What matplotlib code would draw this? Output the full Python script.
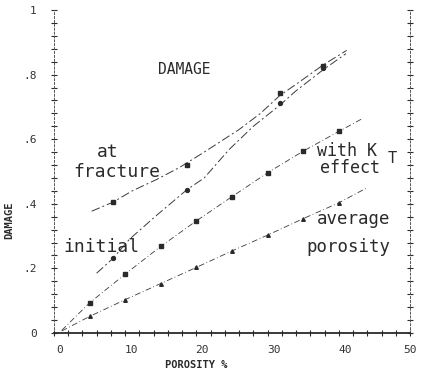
import numpy as np
import matplotlib
matplotlib.use('Agg')
import matplotlib.pyplot as plt
from matplotlib.ticker import MultipleLocator, FixedLocator, FixedFormatter
from matplotlib.transforms import ScaledTranslation

# measured points (porosity %, damage)
frac_x = [8.3, 18.7, 31.7, 37.8]
frac_y = [0.405, 0.52, 0.743, 0.827]
init_x = [8.3, 18.7, 31.7, 37.8]
init_y = [0.231, 0.444, 0.712, 0.82]
kt_x = [5, 10, 15, 20, 25, 30, 35, 40]
kt_y = [0.093, 0.182, 0.268, 0.347, 0.422, 0.496, 0.563, 0.624]
avg_x = [5, 10, 15, 20, 25, 30, 35, 40]
avg_y = [0.051, 0.103, 0.153, 0.203, 0.254, 0.303, 0.354, 0.403]

# hand drawn curves
frac_line_x = [5.3, 8.3, 11, 14.4, 17.6, 21.1, 26, 29, 31.7, 34, 37.8, 41.1]
frac_line_y = [0.377, 0.405, 0.44, 0.475, 0.512, 0.56, 0.63, 0.68, 0.735, 0.77, 0.83, 0.875]
init_line_x = [6, 8.3, 10.6, 14.3, 18.7, 21.1, 24.6, 28, 31.7, 34, 37.8, 41]
init_line_y = [0.185, 0.231, 0.29, 0.362, 0.444, 0.48, 0.568, 0.64, 0.705, 0.75, 0.815, 0.865]
kt_line_x = [1.1, 5, 10, 15, 20, 25, 30, 35, 40, 43.4]
kt_line_y = [0.008, 0.093, 0.182, 0.268, 0.347, 0.422, 0.496, 0.563, 0.624, 0.665]
avg_line_x = [1.1, 5, 10, 15, 20, 25, 30, 35, 40, 44]
avg_line_y = [0.006, 0.051, 0.103, 0.153, 0.203, 0.254, 0.303, 0.354, 0.403, 0.45]

xticks = [0, 10, 20, 30, 40, 50]
xtick_labels = ['0', '10', '20', '30', '40', '50']
yticks = [0, 0.2, 0.4, 0.6, 0.8, 1.0]
ytick_labels = ['0', '.2', '.4', '.6', '.8', '1']

mono = 'DejaVu Sans Mono'
ink = '#2a2a2a'
lcol = '#3a3a3a'

fig = plt.figure(figsize=(4.21, 3.72), dpi=100)
ax = fig.add_axes([0.128, 0.105, 0.846, 0.868])

ax.plot(frac_line_x, frac_line_y, color=lcol, lw=0.7, ls=(0, (9, 3, 2, 3)))
ax.plot(init_line_x, init_line_y, color=lcol, lw=0.7, ls=(0, (9, 3, 2, 3)))
ax.plot(kt_line_x, kt_line_y, color=lcol, lw=0.6, ls=(0, (7, 3, 1, 3)))
ax.plot(avg_line_x, avg_line_y, color=lcol, lw=0.6, ls=(0, (7, 3, 1, 3)))

ax.plot(frac_x, frac_y, 's', color=ink, ms=3.2, ls='none')
ax.plot(init_x, init_y, 'o', color=ink, ms=2.8, ls='none')
ax.plot(kt_x, kt_y, 's', color=ink, ms=2.3, ls='none')
ax.plot(avg_x, avg_y, '^', color=ink, ms=2.6, ls='none')

ax.set_xlim(0, 50)
ax.set_ylim(0, 1)

ax.text(14.6, 0.815, 'DAMAGE', family=mono, fontsize=10.5, color=ink, va='center')
ax.text(6.0, 0.559, 'at', family=mono, fontsize=13, color=ink, va='center')
ax.text(2.7, 0.497, 'fracture', family=mono, fontsize=13, color=ink, va='center')
ax.text(1.3, 0.265, 'initial', family=mono, fontsize=13, color=ink, va='center')
ax.text(36.9, 0.562, 'with K', family=mono, fontsize=12, color=ink, va='center')
ax.text(37.4, 0.512, 'effect', family=mono, fontsize=12, color=ink, va='center')
ax.text(46.9, 0.540, 'T', family=mono, fontsize=11, color=ink, va='center')
ax.text(36.9, 0.352, 'average', family=mono, fontsize=12.5, color=ink, va='center')
ax.text(35.5, 0.265, 'porosity', family=mono, fontsize=12.5, color=ink, va='center')

ax.xaxis.set_major_locator(FixedLocator(xticks))
ax.xaxis.set_major_formatter(FixedFormatter(xtick_labels))
ax.xaxis.set_minor_locator(MultipleLocator(2))
ax.yaxis.set_major_locator(FixedLocator(yticks))
ax.yaxis.set_major_formatter(FixedFormatter(ytick_labels))
ax.yaxis.set_minor_locator(MultipleLocator(0.04))

ax.tick_params(which='both', direction='inout', color=ink, width=0.8,
               right=True, top=False, labelright=False)
ax.tick_params(which='major', length=5)
ax.tick_params(which='minor', length=4)
ax.tick_params(axis='y', pad=10)
ax.tick_params(axis='x', pad=6)

xlabs = ax.get_xticklabels()
for i, lab in enumerate(xlabs):
    lab.set_family(mono)
    lab.set_fontsize(8)
    lab.set_color('#333333')
    shift = 0.06 if i < len(xlabs) - 1 else 0.0
    lab.set_transform(lab.get_transform() + ScaledTranslation(shift, 0, fig.dpi_scale_trans))
for lab in ax.get_yticklabels():
    lab.set_family(mono)
    lab.set_fontsize(8)
    lab.set_color('#333333')

ax.spines['top'].set_visible(False)
ax.spines['bottom'].set_linewidth(1.3)
ax.spines['bottom'].set_color(ink)
for side in ['left', 'right']:
    ax.spines[side].set_linewidth(0.7)
    ax.spines[side].set_color('#555555')
    ax.spines[side].set_linestyle((0, (2, 2)))

ax.set_xlabel('POROSITY %', family=mono, fontsize=7.5, color=ink, fontweight='bold')
ax.xaxis.set_label_coords(0.40, -0.085)
ax.set_ylabel('DAMAGE', family=mono, fontsize=7.5, color=ink, fontweight='bold')
ax.yaxis.set_label_coords(-0.11, 0.35)

fig.savefig('out.png', dpi=100)
